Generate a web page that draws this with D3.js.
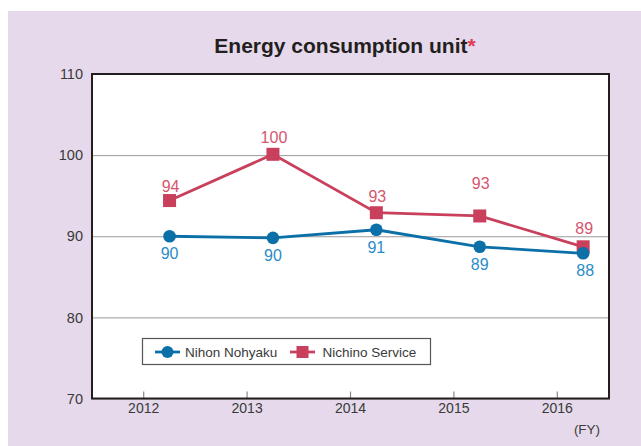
<!DOCTYPE html>
<html>
<head>
<meta charset="utf-8">
<script src="https://cdn.jsdelivr.net/npm/d3@7"></script>
<style>
  html, body { margin: 0; padding: 0; background: #fff; }
  svg { display: block; }
</style>
</head>
<body>
<svg id="chart"></svg>
<script>
// data
const years = ["2012", "2013", "2014", "2015", "2016"];
const nihonValues = [90.0, 89.8, 90.8, 88.7, 87.9];
const nihonLabels = ["90", "90", "91", "89", "88"];
const nichinoValues = [94.4, 100.1, 92.9, 92.5, 88.7];
const nichinoLabels = ["94", "100", "93", "93", "89"];
const yTicks = [70, 80, 90, 100, 110];

const width = 641, height = 446;
const plot = {left: 92, right: 609, top: 74, bottom: 398.5};

const blue = "#0b6fa8", blueText = "#2b8cc6";
const red = "#c9405c", redText = "#d5566f";

const svg = d3.select("#chart")
    .attr("width", width)
    .attr("height", height)
    .style("font-family", "'Liberation Sans', Arial, sans-serif");

// lavender panel
svg.append("rect")
    .attr("x", 8).attr("y", 11)
    .attr("width", width - 8).attr("height", height - 11)
    .attr("fill", "#e5d9eb");

svg.append("rect")
    .attr("x", plot.left).attr("y", plot.top)
    .attr("width", plot.right - plot.left).attr("height", plot.bottom - plot.top)
    .attr("fill", "#fff");

const x = d3.scaleBand()
    .domain(years)
    .range([plot.left, plot.right]);

const y = d3.scaleLinear()
    .domain([70, 110])
    .range([plot.bottom, plot.top]);

// points sit 3/4 of the way across each year slot
const px = d => x(d) + x.bandwidth() * 0.75;

// grid + y labels
const yAxis = svg.append("g")
    .attr("transform", `translate(${plot.left},0)`)
    .call(d3.axisLeft(y).tickValues(yTicks)
      .tickSizeInner(-(plot.right - plot.left)).tickSizeOuter(0).tickPadding(9));
yAxis.select(".domain").remove();
yAxis.selectAll(".tick line").attr("stroke", "#9a9a9a").attr("stroke-width", 1);
yAxis.selectAll(".tick text")
    .attr("fill", "#3a3a3a")
    .style("font-size", "14.5px");

// x axis ticks + labels
const xAxis = svg.append("g")
    .attr("transform", `translate(0,${plot.bottom})`)
    .call(d3.axisBottom(x).tickSizeInner(-7).tickSizeOuter(0).tickPadding(5));
xAxis.select(".domain").remove();
xAxis.selectAll(".tick line").attr("stroke", "#888").attr("stroke-width", 1.2);
xAxis.selectAll(".tick text")
    .attr("fill", "#3a3a3a")
    .style("font-size", "14px");

svg.append("text")
    .attr("x", 587).attr("y", 434)
    .attr("text-anchor", "middle")
    .attr("fill", "#3a3a3a")
    .style("font-size", "13.5px")
    .text("(FY)");

// frame
svg.append("rect")
    .attr("x", plot.left).attr("y", plot.top)
    .attr("width", plot.right - plot.left).attr("height", plot.bottom - plot.top)
    .attr("fill", "none")
    .attr("stroke", "#231f20")
    .attr("stroke-width", 2);

// title
const title = svg.append("text")
    .attr("x", 345).attr("y", 53)
    .attr("text-anchor", "middle")
    .attr("fill", "#231f20")
    .style("font-size", "21px")
    .style("font-weight", "bold");
title.append("tspan").text("Energy consumption unit");
title.append("tspan").attr("fill", "#e03a4c").text("*");

const line = d3.line()
    .x((d, i) => px(years[i]))
    .y(d => y(d));

// Nichino Service
svg.append("path")
    .datum(nichinoValues)
    .attr("fill", "none")
    .attr("stroke", red)
    .attr("stroke-width", 2.8)
    .attr("d", line);
svg.append("g").selectAll("rect")
    .data(nichinoValues)
    .join("rect")
      .attr("x", (d, i) => px(years[i]) - 6.5)
      .attr("y", d => y(d) - 6.5)
      .attr("width", 13).attr("height", 13)
      .attr("fill", red);

// Nihon Nohyaku
svg.append("path")
    .datum(nihonValues)
    .attr("fill", "none")
    .attr("stroke", blue)
    .attr("stroke-width", 2.8)
    .attr("d", line);
svg.append("g").selectAll("circle")
    .data(nihonValues)
    .join("circle")
      .attr("cx", (d, i) => px(years[i]))
      .attr("cy", d => y(d))
      .attr("r", 6.3)
      .attr("fill", blue);

// value labels
const redLift = [14, 17, 16, 33, 19];
svg.append("g").selectAll("text")
    .data(nichinoLabels)
    .join("text")
      .attr("x", (d, i) => px(years[i]) + 1)
      .attr("y", (d, i) => y(nichinoValues[i]) - redLift[i])
      .attr("dy", "0.36em")
      .attr("text-anchor", "middle")
      .attr("fill", redText)
      .style("font-size", "16px")
      .text(d => d);

svg.append("g").selectAll("text")
    .data(nihonLabels)
    .join("text")
      .attr("x", (d, i) => px(years[i]) + (i === 4 ? 2 : 0))
      .attr("y", (d, i) => y(nihonValues[i]) + 17)
      .attr("dy", "0.36em")
      .attr("text-anchor", "middle")
      .attr("fill", blueText)
      .style("font-size", "16px")
      .text(d => d);

// legend
const legend = svg.append("g");
legend.append("rect")
    .attr("x", 142.5).attr("y", 338.5)
    .attr("width", 288).attr("height", 26)
    .attr("fill", "#fff")
    .attr("stroke", "#555")
    .attr("stroke-width", 1.2);
legend.append("line")
    .attr("x1", 155).attr("x2", 180).attr("y1", 352).attr("y2", 352)
    .attr("stroke", blue).attr("stroke-width", 2.8);
legend.append("circle")
    .attr("cx", 167.5).attr("cy", 352).attr("r", 6).attr("fill", blue);
legend.append("text")
    .attr("x", 185).attr("y", 352).attr("dy", "0.36em")
    .attr("fill", "#3a3a3a").style("font-size", "13.5px")
    .text("Nihon Nohyaku");
legend.append("line")
    .attr("x1", 290).attr("x2", 315).attr("y1", 352).attr("y2", 352)
    .attr("stroke", red).attr("stroke-width", 2.8);
legend.append("rect")
    .attr("x", 296.5).attr("y", 346).attr("width", 12).attr("height", 12).attr("fill", red);
legend.append("text")
    .attr("x", 322.5).attr("y", 352).attr("dy", "0.36em")
    .attr("fill", "#3a3a3a").style("font-size", "13.5px")
    .text("Nichino Service");
</script>
</body>
</html>
